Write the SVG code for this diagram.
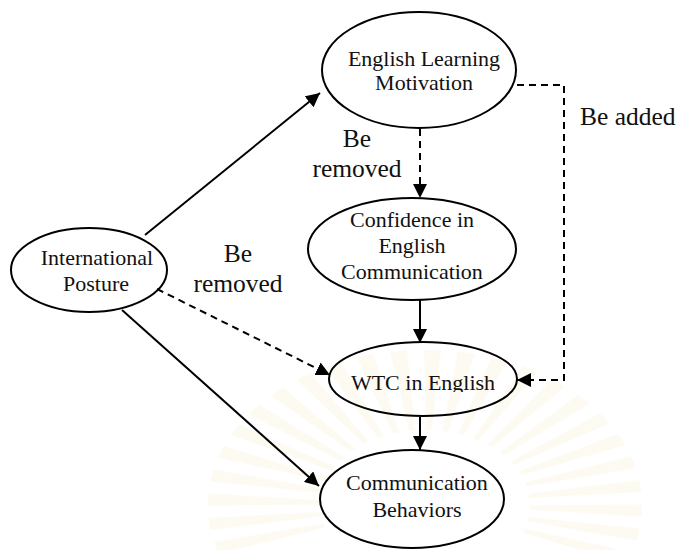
<svg xmlns="http://www.w3.org/2000/svg" xmlns:xlink="http://www.w3.org/1999/xlink" width="680" height="550" viewBox="0 0 680 550">
  <style>
    .node { fill: none; stroke: #000; stroke-width: 2; }
    .txt { font-family: 'Liberation Serif', 'DejaVu Serif', serif; font-size: 22px; fill: #111; text-anchor: middle; }
    .lbl { font-family: 'Liberation Serif', 'DejaVu Serif', serif; font-size: 25.5px; fill: #111; }
    .edge { fill: none; stroke: #000; stroke-width: 2; marker-end: url(#arrow); }
    .dash { stroke-dasharray: 7 5; }
    .ray { fill: #f3dc9a; opacity: 0.13; }
  </style>
  <defs>
    <marker id="arrow" viewBox="0 0 14 14" refX="14" refY="7" markerWidth="14" markerHeight="14" markerUnits="userSpaceOnUse" orient="auto">
      <path d="M0,0 L14,7 L0,14 z" fill="#000"/>
    </marker>
    <polygon id="beam" points="75,-2 155,-6 155,6 75,2"/>
    <clipPath id="wtcClip">
      <rect x="320" y="340" width="210" height="52"/>
    </clipPath>
  </defs>

  <rect width="680" height="550" fill="#fff"/>

  <!-- faint sunburst emblem in the background -->
  <g id="emblem" class="ray" transform="translate(425,505) scale(1.4,1)">
    <use xlink:href="#beam" transform="rotate(20)"/>
    <use xlink:href="#beam" transform="rotate(11)"/>
    <use xlink:href="#beam" transform="rotate(2)"/>
    <use xlink:href="#beam" transform="rotate(-7)"/>
    <use xlink:href="#beam" transform="rotate(-16)"/>
    <use xlink:href="#beam" transform="rotate(-25)"/>
    <use xlink:href="#beam" transform="rotate(-34)"/>
    <use xlink:href="#beam" transform="rotate(-43)"/>
    <use xlink:href="#beam" transform="rotate(-52)"/>
    <use xlink:href="#beam" transform="rotate(-61)"/>
    <use xlink:href="#beam" transform="rotate(-70)"/>
    <use xlink:href="#beam" transform="rotate(-79)"/>
    <use xlink:href="#beam" transform="rotate(-88)"/>
    <use xlink:href="#beam" transform="rotate(-97)"/>
    <use xlink:href="#beam" transform="rotate(-106)"/>
    <use xlink:href="#beam" transform="rotate(-115)"/>
    <use xlink:href="#beam" transform="rotate(-124)"/>
    <use xlink:href="#beam" transform="rotate(-133)"/>
    <use xlink:href="#beam" transform="rotate(-142)"/>
    <use xlink:href="#beam" transform="rotate(-151)"/>
    <use xlink:href="#beam" transform="rotate(-160)"/>
    <use xlink:href="#beam" transform="rotate(-169)"/>
    <use xlink:href="#beam" transform="rotate(-178)"/>
    <use xlink:href="#beam" transform="rotate(-187)"/>
    <use xlink:href="#beam" transform="rotate(-196)"/>
  </g>

  <!-- connectors -->
  <g id="connectors">
    <line class="edge" x1="145" y1="235" x2="320" y2="93"/>
    <line class="edge dash" x1="420" y1="129" x2="420" y2="198"/>
    <line class="edge" x1="420" y1="300" x2="420" y2="343"/>
    <line class="edge dash" x1="157" y1="289" x2="330" y2="375"/>
    <path class="edge dash" d="M517,85 H564 V380 H517"/>
    <line class="edge" x1="420" y1="417" x2="420" y2="450"/>
    <line class="edge" x1="122" y1="310" x2="319" y2="486"/>
  </g>

  <!-- edge labels -->
  <g id="labels">
    <text class="lbl" x="357" y="147" text-anchor="middle">Be</text>
    <text class="lbl" x="357" y="177" text-anchor="middle">removed</text>
    <text class="lbl" x="238" y="262" text-anchor="middle">Be</text>
    <text class="lbl" x="238" y="292" text-anchor="middle">removed</text>
    <text class="lbl" x="580" y="125">Be added</text>
  </g>

  <!-- nodes -->
  <g id="international-posture">
    <ellipse class="node" cx="89" cy="270" rx="78" ry="42"/>
    <text class="txt" x="97" y="265">International</text>
    <text class="txt" x="96" y="291">Posture</text>
  </g>

  <g id="english-learning-motivation">
    <ellipse class="node" cx="419" cy="70" rx="97" ry="58"/>
    <text class="txt" x="424" y="66">English Learning</text>
    <text class="txt" x="424" y="90">Motivation</text>
  </g>

  <g id="confidence-in-english-communication">
    <ellipse class="node" cx="412" cy="249" rx="104" ry="51"/>
    <text class="txt" x="412" y="227">Confidence in</text>
    <text class="txt" x="412" y="253">English</text>
    <text class="txt" x="412" y="279">Communication</text>
  </g>

  <g id="wtc-in-english">
    <ellipse class="node" cx="423" cy="379" rx="94" ry="37"/>
    <text class="txt" x="423" y="390" clip-path="url(#wtcClip)">WTC in English</text>
  </g>

  <g id="communication-behaviors">
    <ellipse class="node" cx="412" cy="499" rx="92" ry="49"/>
    <text class="txt" x="417" y="490">Communication</text>
    <text class="txt" x="417" y="517">Behaviors</text>
  </g>
</svg>
